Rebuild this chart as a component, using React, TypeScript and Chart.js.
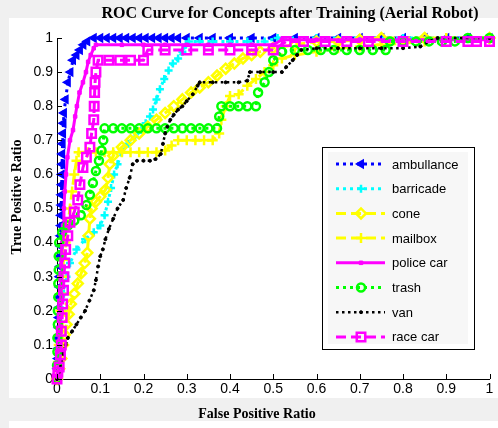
import React, { useEffect, useRef } from 'react';
import { Chart, registerables } from 'chart.js';
import { drawPoint } from 'chart.js/helpers';

Chart.register(...registerables);

const chartTitle = 'ROC Curve for Concepts after Training (Aerial Robot)';
const xAxisTitle = 'False Positive Ratio';
const yAxisTitle = 'True Positive Ratio';

const seriesNames = ['ambullance', 'barricade', 'cone', 'mailbox', 'police car', 'trash', 'van', 'race car'];

const tickValues = [0, 0.1, 0.2, 0.3, 0.4, 0.5, 0.6, 0.7, 0.8, 0.9, 1];
const tickLabels = ['0', '0.1', '0.2', '0.3', '0.4', '0.5', '0.6', '0.7', '0.8', '0.9', '1'];

const ambulanceFpr = [0, 0.001, 0.002, 0.003, 0.003, 0.004, 0.004, 0.005, 0.005, 0.006, 0.006, 0.007, 0.007, 0.008, 0.008, 0.009, 0.009, 0.01, 0.01, 0.011, 0.011, 0.012, 0.012, 0.013, 0.014, 0.015, 0.016, 0.02, 0.025, 0.031, 0.037, 0.045, 0.053, 0.061, 0.07, 0.085, 0.1, 0.115, 0.13, 0.145, 0.16, 0.175, 0.19, 0.205, 0.22, 0.235, 0.25, 0.265, 0.28, 0.3, 0.33, 0.36, 0.4, 0.45, 0.5, 0.55, 0.6, 0.65, 0.7, 0.75, 0.8, 0.85, 0.9, 0.95, 1];
const ambulanceTpr = [0, 0.03, 0.06, 0.09, 0.12, 0.15, 0.18, 0.21, 0.24, 0.27, 0.3, 0.33, 0.36, 0.39, 0.42, 0.45, 0.48, 0.51, 0.54, 0.57, 0.6, 0.63, 0.66, 0.69, 0.72, 0.75, 0.78, 0.82, 0.87, 0.9, 0.935, 0.95, 0.965, 0.98, 0.99, 1, 1, 1, 1, 1, 1, 1, 1, 1, 1, 1, 1, 1, 1, 1, 1, 1, 1, 1, 1, 1, 1, 1, 1, 1, 1, 1, 1, 1, 1];

const barricadeFpr = [0, 0.003, 0.005, 0.008, 0.012, 0.016, 0.022, 0.03, 0.045, 0.065, 0.085, 0.1, 0.11, 0.118, 0.125, 0.132, 0.14, 0.15, 0.165, 0.18, 0.195, 0.205, 0.215, 0.222, 0.23, 0.238, 0.248, 0.258, 0.268, 0.28, 0.29, 0.298, 0.305, 0.33, 0.36, 0.4, 0.44, 0.48, 0.51, 0.6, 0.7, 0.8, 0.9, 1];
const barricadeTpr = [0, 0.05, 0.1, 0.15, 0.2, 0.25, 0.3, 0.34, 0.38, 0.41, 0.43, 0.45, 0.48, 0.52, 0.56, 0.6, 0.63, 0.665, 0.69, 0.71, 0.73, 0.75, 0.77, 0.79, 0.82, 0.85, 0.88, 0.905, 0.925, 0.94, 0.96, 0.98, 0.99, 0.99, 0.99, 0.99, 0.99, 0.99, 1, 1, 1, 1, 1, 1];

const coneFpr = [0, 0.005, 0.01, 0.014, 0.018, 0.022, 0.027, 0.032, 0.04, 0.048, 0.056, 0.064, 0.07, 0.073, 0.076, 0.08, 0.09, 0.1, 0.112, 0.118, 0.122, 0.13, 0.15, 0.17, 0.19, 0.21, 0.23, 0.25, 0.27, 0.29, 0.31, 0.33, 0.35, 0.37, 0.39, 0.41, 0.43, 0.45, 0.47, 0.5, 0.55, 0.6, 0.65, 0.7, 0.75, 0.85, 1];
const coneTpr = [0, 0.03, 0.06, 0.1, 0.13, 0.16, 0.19, 0.22, 0.25, 0.28, 0.31, 0.34, 0.37, 0.42, 0.47, 0.5, 0.52, 0.535, 0.555, 0.59, 0.63, 0.655, 0.68, 0.7, 0.72, 0.74, 0.76, 0.78, 0.8, 0.82, 0.84, 0.855, 0.87, 0.89, 0.91, 0.925, 0.94, 0.95, 0.96, 0.97, 0.98, 0.99, 0.99, 0.995, 1, 1, 1];

const mailboxFpr = [0, 0.002, 0.004, 0.006, 0.008, 0.01, 0.012, 0.015, 0.02, 0.025, 0.03, 0.035, 0.04, 0.045, 0.05, 0.07, 0.09, 0.11, 0.13, 0.15, 0.17, 0.19, 0.21, 0.23, 0.25, 0.265, 0.28, 0.3, 0.32, 0.34, 0.36, 0.375, 0.38, 0.39, 0.4, 0.42, 0.44, 0.46, 0.48, 0.5, 0.52, 0.55, 0.6, 0.65, 0.7, 0.75, 0.8, 0.85, 0.9, 1];
const mailboxTpr = [0, 0.05, 0.1, 0.15, 0.2, 0.25, 0.3, 0.35, 0.4, 0.45, 0.5, 0.55, 0.6, 0.64, 0.665, 0.665, 0.665, 0.665, 0.665, 0.665, 0.665, 0.665, 0.665, 0.665, 0.67, 0.685, 0.7, 0.7, 0.7, 0.7, 0.7, 0.72, 0.76, 0.8, 0.83, 0.835, 0.86, 0.88, 0.9, 0.92, 0.94, 0.95, 0.96, 0.97, 0.975, 0.98, 0.985, 0.99, 1, 1];

const policeCarFpr = [0, 0.002, 0.004, 0.006, 0.008, 0.009, 0.01, 0.011, 0.012, 0.014, 0.016, 0.018, 0.021, 0.024, 0.03, 0.037, 0.042, 0.046, 0.052, 0.06, 0.067, 0.072, 0.078, 0.085, 0.09, 0.15, 0.2, 0.25, 0.3, 0.35, 0.4, 0.45, 0.5, 0.52, 0.6, 0.7, 0.8, 0.9, 1];
const policeCarTpr = [0, 0.05, 0.1, 0.15, 0.2, 0.25, 0.3, 0.35, 0.4, 0.45, 0.5, 0.55, 0.6, 0.65, 0.7, 0.73, 0.77, 0.8, 0.84, 0.87, 0.9, 0.93, 0.95, 0.97, 0.98, 0.98, 0.98, 0.98, 0.98, 0.98, 0.98, 0.98, 0.98, 0.995, 0.995, 0.995, 0.995, 0.995, 0.995];

const trashFpr = [0, 0, 0.001, 0.001, 0.002, 0.002, 0.003, 0.003, 0.004, 0.004, 0.005, 0.012, 0.025, 0.04, 0.055, 0.068, 0.076, 0.083, 0.09, 0.097, 0.103, 0.107, 0.11, 0.13, 0.15, 0.17, 0.19, 0.21, 0.23, 0.25, 0.27, 0.29, 0.31, 0.33, 0.35, 0.37, 0.375, 0.38, 0.4, 0.42, 0.44, 0.46, 0.465, 0.48, 0.49, 0.5, 0.52, 0.55, 0.58, 0.61, 0.64, 0.67, 0.7, 0.73, 0.76, 0.77, 0.8, 0.83, 0.86, 0.89, 0.92, 0.95, 1];
const trashTpr = [0, 0.04, 0.08, 0.12, 0.16, 0.2, 0.24, 0.28, 0.32, 0.36, 0.4, 0.43, 0.45, 0.465, 0.48, 0.51, 0.54, 0.575, 0.61, 0.64, 0.67, 0.7, 0.735, 0.735, 0.735, 0.735, 0.735, 0.735, 0.735, 0.735, 0.735, 0.735, 0.735, 0.735, 0.735, 0.735, 0.77, 0.8, 0.8, 0.8, 0.8, 0.8, 0.84, 0.87, 0.9, 0.935, 0.96, 0.965, 0.965, 0.965, 0.965, 0.965, 0.965, 0.965, 0.965, 0.99, 0.99, 0.99, 0.99, 0.99, 0.99, 1, 1];

const vanFpr = [0, 0.005, 0.01, 0.015, 0.02, 0.025, 0.035, 0.045, 0.055, 0.065, 0.075, 0.085, 0.09, 0.095, 0.1, 0.106, 0.112, 0.12, 0.13, 0.14, 0.153, 0.16, 0.168, 0.175, 0.185, 0.2, 0.215, 0.228, 0.24, 0.245, 0.25, 0.255, 0.262, 0.27, 0.28, 0.29, 0.3, 0.314, 0.325, 0.33, 0.36, 0.39, 0.42, 0.44, 0.446, 0.47, 0.5, 0.52, 0.53, 0.545, 0.555, 0.565, 0.6, 0.65, 0.7, 0.75, 0.8, 0.84, 0.86, 0.88, 0.94, 1];
const vanTpr = [0, 0.02, 0.05, 0.08, 0.1, 0.12, 0.14, 0.16, 0.18, 0.2, 0.23, 0.26, 0.29, 0.33, 0.36, 0.38, 0.41, 0.44, 0.47, 0.5, 0.525, 0.56, 0.59, 0.63, 0.64, 0.64, 0.64, 0.645, 0.66, 0.69, 0.72, 0.74, 0.76, 0.775, 0.79, 0.8, 0.815, 0.835, 0.86, 0.87, 0.87, 0.87, 0.87, 0.875, 0.9, 0.9, 0.9, 0.9, 0.915, 0.935, 0.95, 0.965, 0.97, 0.97, 0.97, 0.97, 0.97, 0.975, 0.99, 1, 1, 1];

const raceCarFpr = [0, 0.002, 0.005, 0.008, 0.01, 0.01, 0.012, 0.013, 0.015, 0.016, 0.018, 0.02, 0.025, 0.03, 0.04, 0.048, 0.053, 0.06, 0.068, 0.076, 0.08, 0.085, 0.086, 0.087, 0.088, 0.09, 0.095, 0.12, 0.145, 0.17, 0.2, 0.21, 0.25, 0.3, 0.35, 0.4, 0.45, 0.5, 0.53, 0.57, 0.62, 0.67, 0.72, 0.8, 0.9, 0.95, 0.97, 1];
const raceCarTpr = [0, 0.02, 0.035, 0.07, 0.1, 0.14, 0.18, 0.22, 0.26, 0.3, 0.34, 0.38, 0.42, 0.46, 0.49, 0.525, 0.57, 0.62, 0.65, 0.68, 0.72, 0.76, 0.8, 0.84, 0.87, 0.9, 0.935, 0.935, 0.935, 0.935, 0.935, 0.965, 0.965, 0.965, 0.965, 0.965, 0.965, 0.965, 0.99, 0.99, 0.99, 0.99, 0.99, 0.99, 0.99, 0.99, 0.99, 0.99];

const seriesFpr = [ambulanceFpr, barricadeFpr, coneFpr, mailboxFpr, policeCarFpr, trashFpr, vanFpr, raceCarFpr];
const seriesTpr = [ambulanceTpr, barricadeTpr, coneTpr, mailboxTpr, policeCarTpr, trashTpr, vanTpr, raceCarTpr];

const NONE = 'rgba(0,0,0,0)';
const seriesStyles = [
  { color: '#0000ff', dash: [3, 4], width: 3, pointStyle: 'triangle', rotation: -90, radius: 4.5, fill: '#0000ff', pbw: 1.5 },
  { color: '#00ffff', dash: [3, 4], width: 3, pointStyle: 'cross', rotation: 0, radius: 4, fill: '#00ffff', pbw: 2.5 },
  { color: '#ffff00', dash: [10, 5], width: 3, pointStyle: 'rectRot', rotation: 0, radius: 5, fill: NONE, pbw: 2.5 },
  { color: '#ffff00', dash: [10, 5], width: 3, pointStyle: 'cross', rotation: 0, radius: 5, fill: NONE, pbw: 2.5 },
  { color: '#ff00ff', dash: [], width: 3, pointStyle: 'rect', rotation: 0, radius: 2.5, fill: '#ff00ff', pbw: 1 },
  { color: '#00ff00', dash: [3, 4], width: 3, pointStyle: 'circle', rotation: 0, radius: 4, fill: NONE, pbw: 2.5 },
  { color: '#000000', dash: [2.5, 3.5], width: 2.5, pointStyle: 'circle', rotation: 0, radius: 1.5, fill: '#000000', pbw: 1 },
  { color: '#ff00ff', dash: [10, 5], width: 3, pointStyle: 'rect', rotation: 0, radius: 6, fill: NONE, pbw: 2.5 },
];

const decorPlugin = {
  id: 'decor',
  beforeDraw(chart: any) {
    const ctx = chart.ctx;
    ctx.save();
    ctx.fillStyle = '#ffffff';
    ctx.fillRect(0, 0, chart.width, chart.height);
    ctx.fillStyle = '#f0f0f0';
    ctx.fillRect(0, 0, chart.width, 18);
    ctx.fillRect(0, 0, 9, chart.height);
    ctx.fillRect(0, 398, chart.width, 23);
    ctx.restore();
  },
  afterDraw(chart: any) {
    const ctx = chart.ctx;
    const area = chart.chartArea;
    const xs = chart.scales.x;
    const ys = chart.scales.y;
    ctx.save();
    ctx.strokeStyle = '#000';
    ctx.lineWidth = 1;
    ctx.setLineDash([]);
    ctx.beginPath();
    tickValues.forEach((v) => {
      const px = Math.round(xs.getPixelForValue(v)) + 0.5;
      ctx.moveTo(px, area.bottom);
      ctx.lineTo(px, area.bottom - 5);
      const py = Math.round(ys.getPixelForValue(v)) + 0.5;
      ctx.moveTo(area.left, py);
      ctx.lineTo(area.left + 5, py);
    });
    ctx.stroke();

    ctx.fillStyle = '#000';
    ctx.font = 'bold 16px "Liberation Serif"';
    ctx.textAlign = 'center';
    ctx.textBaseline = 'alphabetic';
    ctx.fillText(chartTitle, 290, 18);
    ctx.font = 'bold 14px "Liberation Serif"';
    ctx.fillText(xAxisTitle, 257, 418);
    ctx.save();
    ctx.translate(21, 197);
    ctx.rotate(-Math.PI / 2);
    ctx.fillText(yAxisTitle, 0, 0);
    ctx.restore();

    const lx = 322, ly = 147, lw = 152, lh = 202;
    ctx.fillStyle = '#ffffff';
    ctx.fillRect(lx, ly, lw, lh);
    ctx.fillStyle = '#f7f7f7';
    ctx.fillRect(lx + 6, ly + 5, lw - 12, lh - 10);
    ctx.strokeStyle = '#000';
    ctx.lineWidth = 1;
    ctx.strokeRect(lx + 0.5, ly + 0.5, lw, lh);
    chart.data.datasets.forEach((ds: any, i: number) => {
      const st = seriesStyles[i];
      const y = 164 + i * 24.7;
      ctx.save();
      ctx.strokeStyle = st.color;
      ctx.lineWidth = st.width;
      ctx.setLineDash(st.dash);
      ctx.beginPath();
      ctx.moveTo(336, y);
      ctx.lineTo(385, y);
      ctx.stroke();
      ctx.setLineDash([]);
      ctx.strokeStyle = st.color;
      ctx.fillStyle = st.fill;
      ctx.lineWidth = st.pbw;
      drawPoint(ctx, { pointStyle: st.pointStyle, rotation: st.rotation, radius: st.radius, borderWidth: st.pbw }, 361, y);
      ctx.restore();
      ctx.fillStyle = '#000';
      ctx.font = '13px "Liberation Sans"';
      ctx.textAlign = 'left';
      ctx.textBaseline = 'middle';
      ctx.fillText(ds.label, 392, y + 1);
    });
    ctx.restore();
  },
};

export default function App() {
  const ref = useRef<HTMLCanvasElement>(null);
  useEffect(() => {
    if (!ref.current) return;
    const datasets = seriesNames.map((name, i) => {
      const st = seriesStyles[i];
      return {
        label: name,
        data: seriesFpr[i].map((x, j) => ({ x, y: seriesTpr[i][j] })),
        borderColor: st.color,
        borderWidth: st.width,
        borderDash: st.dash,
        pointStyle: st.pointStyle,
        pointRotation: st.rotation,
        pointRadius: st.radius,
        pointBorderColor: st.color,
        pointBackgroundColor: st.fill,
        pointBorderWidth: st.pbw,
        tension: 0,
        fill: false,
        clip: false,
        order: seriesNames.length - i,
      };
    });
    const axisBase = {
      type: 'linear' as const,
      min: 0,
      max: 1,
      grid: { display: false, drawTicks: false },
      border: { display: true, color: '#000', width: 1 },
      afterBuildTicks: (scale: any) => {
        scale.ticks = tickValues.map((v) => ({ value: v }));
      },
    };
    const chart = new Chart(ref.current, {
      type: 'line',
      data: { datasets },
      plugins: [decorPlugin],
      options: {
        responsive: false,
        animation: false,
        layout: { padding: { left: 0, right: 8, top: 38, bottom: 0 } },
        plugins: { legend: { display: false }, tooltip: { enabled: false }, title: { display: false } },
        scales: {
          x: {
            ...axisBase,
            afterFit: (scale: any) => { scale.height = 49; },
            ticks: {
              autoSkip: false,
              maxRotation: 0,
              padding: 2,
              color: '#000',
              font: { family: 'Liberation Sans', size: 14 },
              callback: (_v: any, idx: number) => tickLabels[idx],
            },
          },
          y: {
            ...axisBase,
            afterFit: (scale: any) => { scale.width = 57; },
            ticks: {
              autoSkip: false,
              padding: 4,
              color: '#000',
              font: { family: 'Liberation Sans', size: 14 },
              callback: (_v: any, idx: number) => tickLabels[idx],
            },
          },
        },
      },
    } as any);
    return () => chart.destroy();
  }, []);
  return (
    <div style={{ position: 'absolute', left: 0, top: 0, width: 498, height: 428 }}>
      <canvas ref={ref} width={498} height={428} />
    </div>
  );
}
